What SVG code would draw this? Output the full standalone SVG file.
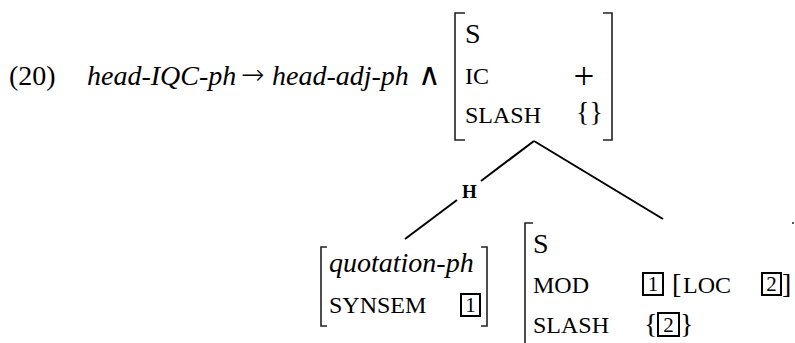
<svg xmlns="http://www.w3.org/2000/svg" width="795" height="343" viewBox="0 0 795 343">
<style>
text{font-family:"Liberation Serif","Times New Roman",serif;fill:#000}
.m{font-size:28px}
.i{font-size:28px;font-style:italic}
.sc{font-size:24px}
.b{font-size:19px;font-weight:bold}
.n{font-size:21px;text-anchor:middle}
.sym{font-family:"DejaVu Sans",sans-serif;font-weight:200}
.br{fill:none;stroke:#222;stroke-width:1.6}
.bx{fill:none;stroke:#000;stroke-width:2}
.ln{stroke:#000;stroke-width:2;fill:none}
</style>
<rect width="795" height="343" fill="#fff"/>
<g id="label">
<text class="m" x="9" y="85">(20)</text>
<text class="i" x="87" y="85">head-IQC-ph</text>
<text class="sym" x="241" y="84" font-size="28">→</text>
<text class="i" x="272" y="85">head-adj-ph</text>
<text class="sym" x="418" y="85" font-size="31">∧</text>
</g>
<g id="mother">
<path class="br" d="M465,13 H455 V140 H465"/>
<path class="br" d="M603,13 H612 V140 H603"/>
<text class="m" x="465" y="43">S</text>
<text class="sc" x="465" y="84">IC</text>
<text x="584" y="89" font-size="37" text-anchor="middle">+</text>
<text class="m" x="576" y="121">{}</text>
<text class="sc" x="465" y="123">SLASH</text>
</g>
<g id="connectors">
<path class="ln" d="M534,141 L481,181"/>
<path class="ln" d="M457,200 L405,239"/>
<path class="ln" d="M534,141 L663,219"/>
<text class="b" x="469.5" y="198" text-anchor="middle">H</text>
</g>
<g id="quotation">
<path class="br" d="M327,247 H321 V326 H327"/>
<path class="br" d="M481,247 H487 V326 H481"/>
<text class="i" x="329" y="272">quotation-ph</text>
<text class="sc" x="329" y="313">SYNSEM</text>
<rect class="bx" x="461" y="294" width="19" height="22"/>
<text class="n" x="470.5" y="312">1</text>
</g>
<g id="adjunct">
<path class="br" d="M533,223 H525 V343"/>
<text class="m" x="533" y="253">S</text>
<text class="sc" x="533" y="293">MOD</text>
<rect class="bx" x="643" y="273" width="20" height="22"/>
<text class="n" x="653" y="291">1</text>
<text class="m" x="672" y="293">[</text>
<text class="sc" x="683" y="293">LOC</text>
<rect class="bx" x="762" y="273" width="19" height="22"/>
<text class="n" x="771.5" y="291">2</text>
<text class="m" x="782" y="293">]</text>
<text class="sc" x="533" y="333">SLASH</text>
<text class="m" x="644" y="333">{</text>
<rect class="bx" x="658" y="313" width="21" height="23"/>
<text class="n" x="668.5" y="332">2</text>
<text class="m" x="680" y="333">}</text>
<rect x="792" y="222" width="2" height="2" fill="#555"/>
</g>
</svg>
